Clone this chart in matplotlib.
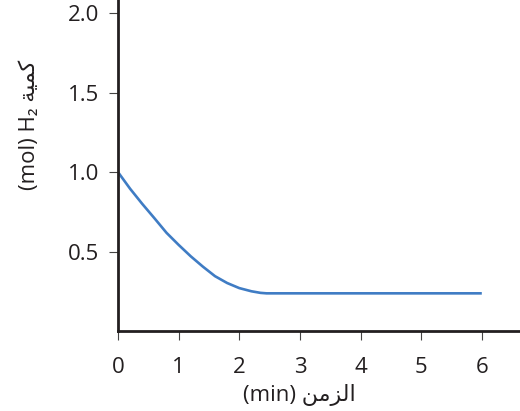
import matplotlib
matplotlib.use('Agg')
import matplotlib.pyplot as plt

plt.rcParams['font.family'] = ['Open Sans', 'DejaVu Sans']

# الزمن (min) و كمية H2 (mol)
time_min = [0, 0.2, 0.4, 0.6, 0.8, 1.0, 1.2, 1.4, 1.6, 1.8, 2.0, 2.2, 2.35, 2.45, 6.0]
h2_mol = [1.0, 0.895, 0.80, 0.71, 0.618, 0.542, 0.47, 0.405, 0.345, 0.302, 0.27, 0.25, 0.24, 0.237, 0.237]

x_ticks = [0, 1, 2, 3, 4, 5, 6]
y_ticks = [0.5, 1.0, 1.5, 2.0]

ink = '#231f20'

fig = plt.figure(figsize=(5.2, 4.11), dpi=100)
ax = fig.add_axes([118 / 520, 80 / 411, 1 - 118 / 520, 1 - 80 / 411])

ax.plot(time_min, h2_mol, color='#3f7cc4', linewidth=1.9, solid_capstyle='butt')

ax.set_xlim(0, 6.63)
ax.set_ylim(0, 2.083)
ax.set_xticks(x_ticks)
ax.set_yticks(y_ticks)
ax.set_yticklabels(['0.5', '1.0', '1.5', '2.0'])

for side in ['top', 'right']:
    ax.spines[side].set_visible(False)
for side in ['left', 'bottom']:
    ax.spines[side].set_linewidth(2)
    ax.spines[side].set_color(ink)

ax.tick_params(axis='both', direction='out', length=6.5, width=0.8,
               color='#444444', labelsize=16, labelcolor=ink)
ax.tick_params(axis='y', pad=7)
ax.tick_params(axis='x', pad=12)

# Arabic text is written in pre-shaped presentation forms, visual order
fig.text(299 / 520, 1 - 395 / 411, '(min) ' + 'ﻦﻣﺰﻟﺍ', ha='center', va='center',
         fontsize=16, color=ink)
fig.text(30 / 520, 1 - 125 / 411, '(mol) H₂ ' + 'ﺔﻴﻤﻛ', ha='center', va='center',
         rotation=90, fontsize=16, color=ink)

plt.savefig('out.png', dpi=100)
plt.close()
